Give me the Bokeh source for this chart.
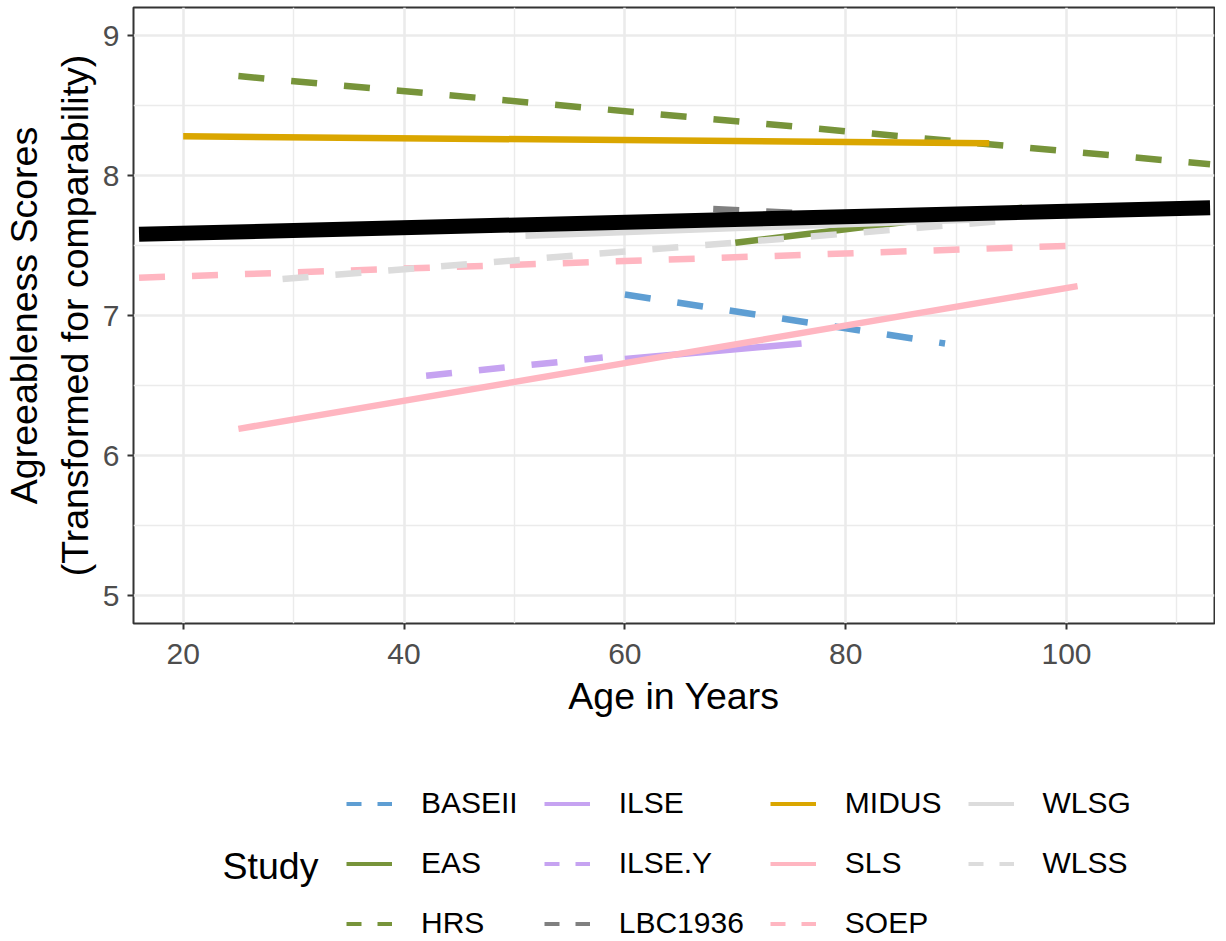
from bokeh.plotting import figure
from bokeh.layouts import column
from bokeh.models import Range1d, FixedTicker, Legend, LegendItem, Label
from bokeh.embed import file_html
from bokeh.resources import INLINE

# ---- data ----
studies = ["BASEII", "EAS", "HRS", "ILSE", "ILSE.Y", "LBC1936",
           "MIDUS", "SLS", "SOEP", "WLSG", "WLSS"]
age_min = [60, 70, 25, 60, 42, 68, 20, 25, 16, 51, 29]
age_max = [89, 96, 113, 76, 58, 82, 93, 101, 101, 93, 95]
score_at_min = [7.15, 7.52, 8.71, 6.69, 6.57, 7.76, 8.28, 6.19, 7.27, 7.57, 7.26]
score_at_max = [6.80, 7.77, 8.08, 6.80, 6.70, 7.71, 8.23, 7.21, 7.50, 7.69, 7.68]
dashed = [True, False, True, False, True, True, False, False, True, False, True]
colors = ["#5E9ED3", "#77943A", "#77943A", "#C6A3F1", "#C6A3F1", "#808080",
          "#DAA600", "#FFB6C1", "#FFB6C1", "#DCDCDC", "#DCDCDC"]

overall_age = [16, 113]
overall_score = [7.58, 7.77]

x_ticks = [20, 40, 60, 80, 100]
x_minor = [30, 50, 70, 90, 110]
y_ticks = [5, 6, 7, 8, 9]
y_minor = [5.5, 6.5, 7.5, 8.5]

FONT = "Liberation Sans"

p = figure(frame_width=1081, frame_height=616, output_backend="svg",
           toolbar_location=None,
           x_range=Range1d(15.5, 113.4), y_range=Range1d(4.8, 9.2),
           min_border_left=131, min_border_right=1, min_border_top=7,
           min_border_bottom=115)
p.background_fill_color = "white"
p.border_fill_color = "white"
p.outline_line_color = "#333333"
p.outline_line_width = 2

p.xaxis.ticker = FixedTicker(ticks=x_ticks, minor_ticks=x_minor)
p.yaxis.ticker = FixedTicker(ticks=y_ticks, minor_ticks=y_minor)
for g in (p.xgrid, p.ygrid):
    g.grid_line_color = "#EBEBEB"
    g.grid_line_width = 2.6
    g.minor_grid_line_color = "#EBEBEB"
    g.minor_grid_line_width = 1.4

for ax in (p.xaxis, p.yaxis):
    ax.axis_line_color = None
    ax.major_tick_line_color = "#333333"
    ax.major_tick_line_width = 2
    ax.major_tick_out = 6
    ax.major_tick_in = 0
    ax.minor_tick_line_color = None
    ax.major_label_text_font = FONT
    ax.major_label_text_font_size = "30px"
    ax.major_label_text_color = "#4D4D4D"
    ax.axis_label_text_font = FONT
    ax.axis_label_text_font_size = "37.5px"
    ax.axis_label_text_font_style = "normal"
    ax.axis_label_text_color = "black"

p.xaxis.axis_label = "Age in Years"
p.xaxis.major_label_standoff = 14
p.xaxis.axis_label_standoff = 8
p.yaxis.axis_label = "Agreeableness Scores\n(Transformed for comparability)"
p.yaxis.major_label_standoff = 8
p.yaxis.axis_label_standoff = 4

# study lines
for i, s in enumerate(studies):
    p.line(x=[age_min[i], age_max[i]], y=[score_at_min[i], score_at_max[i]],
           line_color=colors[i], line_width=6.5,
           line_dash="26 27" if dashed[i] else "solid")

# overall trajectory
p.line(x=overall_age, y=overall_score, line_color="black", line_width=15)

# ---- legend area (separate canvas below the plot) ----
lg = figure(frame_width=1081, frame_height=200, output_backend="svg",
            toolbar_location=None,
            x_range=Range1d(0, 1), y_range=Range1d(0, 1),
            x_axis_location=None, y_axis_location=None,
            min_border_left=131, min_border_right=1, min_border_top=0,
            min_border_bottom=0)
lg.grid.visible = False
lg.outline_line_color = None
lg.background_fill_color = "white"
lg.border_fill_color = "white"

# legend keys: the same segments (outside this canvas' view), thinner keys
items = []
for i, s in enumerate(studies):
    r = lg.line(x=[age_min[i], age_max[i]], y=[score_at_min[i], score_at_max[i]],
                line_color=colors[i], line_width=4,
                line_dash="15 16" if dashed[i] else "solid")
    items.append(LegendItem(label=s, renderers=[r]))

legend = Legend(items=items, location=(302, -2), orientation="vertical",
                nrows=3, glyph_width=46, glyph_height=33, label_height=33,
                label_standoff=29, spacing=26, padding=0, margin=0,
                border_line_alpha=0, background_fill_alpha=0,
                label_text_font=FONT, label_text_font_size="30px",
                label_text_color="black")
lg.add_layout(legend)

lg.add_layout(Label(x=89, y=73, x_units="screen", y_units="screen",
                    text="Study", text_font=FONT, text_font_size="37.5px",
                    text_baseline="middle", text_color="black"))

layout = column(p, lg, spacing=0)
open("out.html", "w").write(file_html(layout, INLINE))
